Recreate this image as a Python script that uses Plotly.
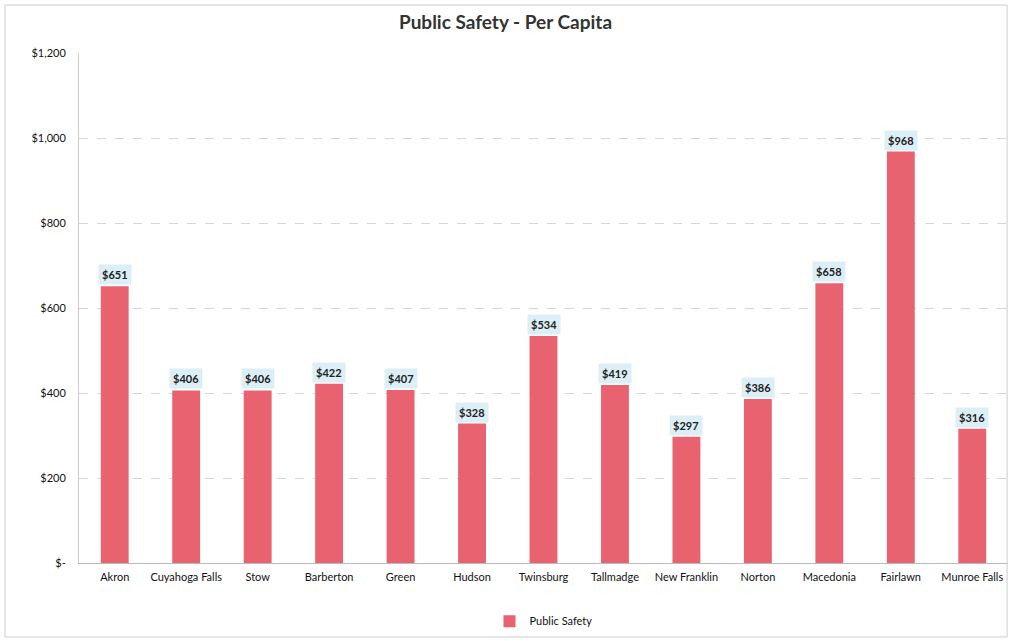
import plotly.graph_objects as go

cities = ["Akron", "Cuyahoga Falls", "Stow", "Barberton", "Green", "Hudson",
          "Twinsburg", "Tallmadge", "New Franklin", "Norton", "Macedonia",
          "Fairlawn", "Munroe Falls"]
values = [651, 406, 406, 422, 407, 328, 534, 419, 297, 386, 658, 968, 316]
tick_vals = [0, 200, 400, 600, 800, 1000, 1200]
tick_text = ["$-", "$200", "$400", "$600", "$800", "$1,000", "$1,200"]
labels = ["$" + str(v) for v in values]

FONT = "Lato, Open Sans, sans-serif"
BAR = "#E8636F"

fig = go.Figure()
fig.add_trace(go.Bar(
    x=cities, y=values, name="Public Safety",
    marker=dict(color=BAR, line=dict(width=0)),
))

for c, v, t in zip(cities, values, labels):
    fig.add_annotation(
        x=c, y=v, text="<b>" + t + "</b>", showarrow=False,
        yanchor="bottom", yshift=1,
        font=dict(family=FONT, size=11, color="#222222"),
        bgcolor="#DCEFF6", borderpad=3,
    )

fig.add_shape(type="rect", xref="paper", yref="paper",
              x0=-0.0797, x1=0.999, y0=-0.145, y1=1.094,
              line=dict(color="#cccccc", width=1))

fig.update_layout(
    width=1011, height=641,
    margin=dict(l=79, r=3, t=53, b=78),
    paper_bgcolor="white", plot_bgcolor="white",
    title=dict(text="<b>Public Safety - Per Capita</b>", x=0.5, xanchor="center",
               y=0.965, yanchor="middle",
               font=dict(family=FONT, size=19, color="#333333")),
    bargap=0.61,
    showlegend=True,
    legend=dict(orientation="h", x=0.5, xanchor="center", y=-0.114, yanchor="middle",
                font=dict(family=FONT, size=11, color="#111111")),
    xaxis=dict(showgrid=False, showline=True, linecolor="#bbbbbb",
               ticks="outside", ticklen=4, tickcolor="rgba(0,0,0,0)",
               tickfont=dict(family=FONT, size=11, color="#111111")),
    yaxis=dict(range=[0, 1200], tickvals=tick_vals, ticktext=tick_text,
               showgrid=True, gridcolor="#d6d6d6", griddash="dash",
               showline=True, linecolor="#cccccc", zeroline=False,
               ticks="outside", ticklen=10, tickcolor="rgba(0,0,0,0)",
               tickfont=dict(family=FONT, size=11, color="#111111")),
    font=dict(family=FONT),
)

fig.write_html("out.html")
